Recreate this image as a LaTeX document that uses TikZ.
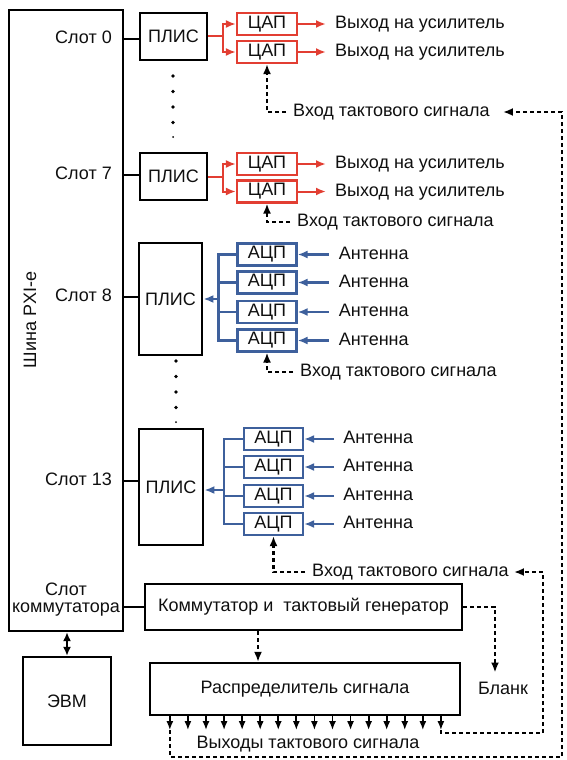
\documentclass[tikz,border=0pt]{standalone}
\usepackage{fontspec}
\setmainfont{Liberation Sans}
\usetikzlibrary{arrows.meta}
\definecolor{daccol}{RGB}{226,62,50}
\definecolor{adccol}{RGB}{62,96,156}
\definecolor{txtcol}{RGB}{15,15,15}
\begin{document}
\begin{tikzpicture}[x=1pt,y=-1pt,
  font=\fontsize{18}{17}\selectfont, text=txtcol,
  blk/.style={draw=black, line width=2.3pt, inner sep=0pt},
  plisbox/.style={draw=black, line width=2.8pt, inner sep=0pt},
  dacbox/.style={draw=daccol, line width=2.2pt, minimum width=60pt, minimum height=22pt, inner sep=0pt},
  adcbox/.style={draw=adccol, line width=2.2pt, minimum width=59pt, minimum height=22pt, inner sep=0pt},
  lbl/.style={anchor=west, inner sep=0pt, text height=13pt, text depth=3.5pt},
  slotlbl/.style={anchor=east, inner sep=0pt, text height=13pt, text depth=3.5pt},
  blkln/.style={draw=black, line width=2.3pt},
  redln/.style={draw=daccol, line width=2pt},
  redarr/.style={redln, -{Latex[length=10pt,width=8pt]}},
  blueln/.style={draw=adccol, line width=2.2pt},
  bluearr/.style={blueln, -{Latex[length=10pt,width=8pt]}},
  clk/.style={draw=black, line width=2.2pt, dash pattern=on 4pt off 3pt, -{Latex[length=10pt,width=8pt]}},
  outarr/.style={draw=black, line width=1.8pt, -{Latex[length=9pt,width=7pt]}},
  dblarr/.style={draw=black, line width=2.2pt, {Latex[length=9pt,width=8pt]}-{Latex[length=9pt,width=8pt]}}
]
\useasboundingbox (0,0) rectangle (566,760);

% PXI bus
\node[blk, minimum width=114pt, minimum height=621pt] (pxi) at (66,320.5) {};
\node[rotate=90, inner sep=0pt] (pxitxt) at (30,320) {Шина PXI-e};

% slot labels
\node[slotlbl] (s0) at (112,39) {Слот 0};
\node[slotlbl] (s7) at (112,175) {Слот 7};
\node[slotlbl] (s8) at (112,297) {Слот 8};
\node[slotlbl] (s13) at (112,481) {Слот 13};
\node[align=center, inner sep=0pt] (skom) at (66,600) {Слот\\коммутатора};

% PLIS boxes
\node[plisbox, minimum width=67pt, minimum height=47pt] (plis0) at (173.5,36.5) {ПЛИС};
\node[plisbox, minimum width=67pt, minimum height=47pt] (plis7) at (173.5,176.5) {ПЛИС};
\node[plisbox, minimum width=63pt, minimum height=112pt] (plis8) at (170.5,299) {ПЛИС};
\node[plisbox, minimum width=64pt, minimum height=116pt] (plis13) at (171,487) {ПЛИС};

\draw[blkln] (pxi.east |- s0.east) -- (plis0.west |- s0.east);
\draw[blkln] (pxi.east |- s7.east) -- (plis7.west |- s7.east);
\draw[blkln] (pxi.east |- s8.east) -- (plis8.west |- s8.east);
\draw[blkln] (pxi.east |- s13.east) -- (plis13.west |- s13.east);

% dots
\foreach \yy in {76,91.5,107,122.5} \fill (173,\yy) circle (1.9pt);
\fill (173,137) circle (1pt);
\foreach \yy in {361,376.5,392,407.5} \fill (176,\yy) circle (1.9pt);
\fill (176,422) circle (1pt);

% DAC slot 0
\node[dacbox] (dac0a) at (267,24) {ЦАП};
\node[dacbox] (dac0b) at (267,52) {ЦАП};
\draw[redarr] (plis0.east) -- ++(15,0) |- (dac0a.west);
\draw[redarr] (plis0.east) -- ++(15,0) |- (dac0b.west);
\node[lbl] (out0a) at (335,24) {Выход на усилитель};
\node[lbl] (out0b) at (335,52) {Выход на усилитель};
\draw[redarr] (dac0a.east) -- ([xshift=-9pt]out0a.west);
\draw[redarr] (dac0b.east) -- ([xshift=-9pt]out0b.west);
\node[lbl] (clk0) at (293,112) {Вход тактового сигнала};
\draw[clk] ([xshift=-7pt]clk0.west) -| (dac0b.south);

% DAC slot 7
\node[dacbox] (dac7a) at (267,164) {ЦАП};
\node[dacbox] (dac7b) at (267,191.5) {ЦАП};
\draw[redarr] (plis7.east) -- ++(15,0) |- (dac7a.west);
\draw[redarr] (plis7.east) -- ++(15,0) |- (dac7b.west);
\node[lbl] (out7a) at (335,164) {Выход на усилитель};
\node[lbl] (out7b) at (335,191.5) {Выход на усилитель};
\draw[redarr] (dac7a.east) -- ([xshift=-9pt]out7a.west);
\draw[redarr] (dac7b.east) -- ([xshift=-9pt]out7b.west);
\node[lbl] (clk7) at (297,222) {Вход тактового сигнала};
\draw[clk] ([xshift=-7pt]clk7.west) -| (dac7b.south);

% ADC slot 8
\node[adcbox] (adc8a) at (267,254.5) {АЦП};
\node[adcbox] (adc8b) at (267,282.5) {АЦП};
\node[adcbox] (adc8c) at (267,312) {АЦП};
\node[adcbox] (adc8d) at (267,340.5) {АЦП};
\draw[blueln] (adc8a.west) -| ([xshift=-18pt]adc8d.west) -- (adc8d.west);
\draw[blueln] (adc8b.west) -- ++(-18,0);
\draw[blueln] (adc8c.west) -- ++(-18,0);
\draw[bluearr] ([xshift=-18pt]adc8a.west |- plis8.east) -- (plis8.east);
\foreach \n in {a,b,c,d}{
  \node[lbl] (ant8\n) at ([xshift=41pt]adc8\n.east) {Антенна};
  \draw[bluearr] ([xshift=-10pt]ant8\n.west) -- (adc8\n.east);
}
\node[lbl] (clk8) at (300,372) {Вход тактового сигнала};
\draw[clk] ([xshift=-7pt]clk8.west) -| (adc8d.south);

% ADC slot 13
\node[adcbox] (adc13a) at (273.5,439) {АЦП};
\node[adcbox] (adc13b) at (273.5,467) {АЦП};
\node[adcbox] (adc13c) at (273.5,496) {АЦП};
\node[adcbox] (adc13d) at (273.5,524) {АЦП};
\draw[blueln] (adc13a.west) -| ([xshift=-19pt]adc13d.west) -- (adc13d.west);
\draw[blueln] (adc13b.west) -- ++(-19,0);
\draw[blueln] (adc13c.west) -- ++(-19,0);
\draw[bluearr] ([xshift=-19pt,yshift=-3pt]adc13a.west |- plis13.east) -- ([yshift=-3pt]plis13.east);
\foreach \n in {a,b,c,d}{
  \node[lbl] (ant13\n) at ([xshift=39pt]adc13\n.east) {Антенна};
  \draw[bluearr] ([xshift=-9pt]ant13\n.west) -- (adc13\n.east);
}
\node[lbl] (clk13) at (312,572) {Вход тактового сигнала};
\draw[clk] ([xshift=-7pt]clk13.west) -| (adc13d.south);

% commutator, distributor, computer
\node[blk, minimum width=317pt, minimum height=46pt] (komm) at (303.5,607) {Коммутатор и~ тактовый генератор};
\draw[blkln] (pxi.east |- komm.west) -- (komm.west);
\node[blk, minimum width=310pt, minimum height=52pt] (dist) at (305,689) {Распределитель сигнала};
\node[blk, minimum width=88pt, minimum height=88pt] (evm) at (67,701) {ЭВМ};
\draw[dblarr] (evm.north) -- (evm.north |- pxi.south);
\draw[clk] ([xshift=-45.5pt]komm.south) -- ([xshift=-45.5pt]komm.south |- dist.north);
\node[inner sep=0pt] (blank) at (503,688) {Бланк};
\draw[clk] (komm.east) -| ([xshift=-8pt,yshift=9pt]blank.north);

% outputs
\foreach \i in {0,...,15}
  \draw[outarr] ([xshift={(21+18.07*\i)*1pt}]dist.south west) -- ++(0,14) coordinate (t\i);
\node[inner sep=0pt] (outs) at (308,744) {Выходы тактового сигнала};
\coordinate (c13) at (543,733);
\coordinate (c0) at (562,757);
\draw[clk] (t15) |- (c13) |- ([xshift=5pt]clk13.east);
\draw[clk] (t0) |- (c0) |- ([xshift=13pt]clk0.east);
\end{tikzpicture}
\end{document}
